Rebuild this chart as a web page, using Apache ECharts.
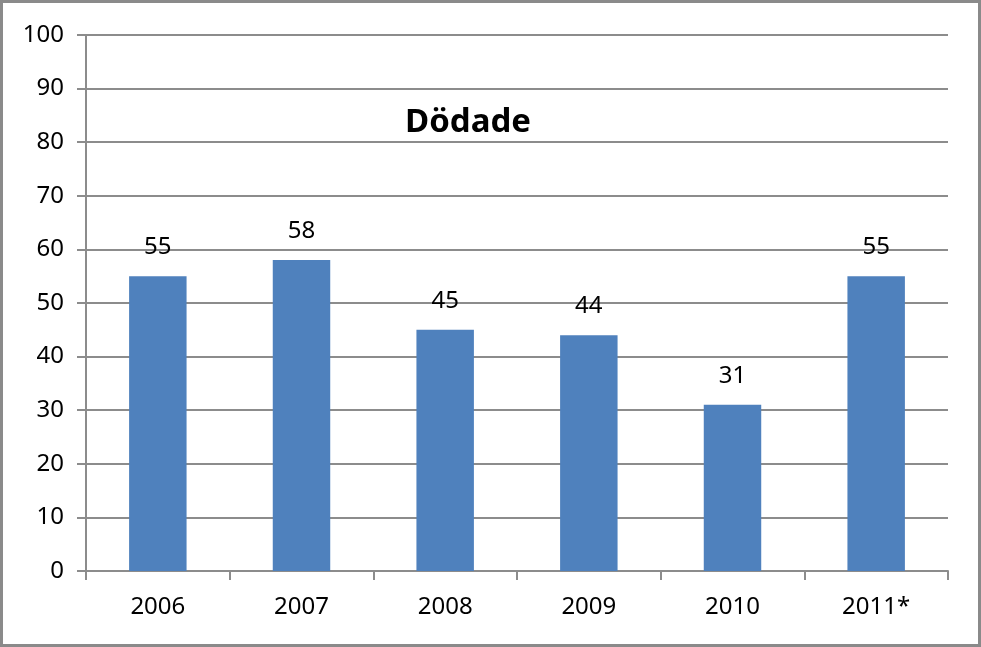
<!DOCTYPE html>
<html><head><meta charset="utf-8">
<script src="https://cdn.jsdelivr.net/npm/echarts@6/dist/echarts.min.js"></script>
<style>html,body{margin:0;padding:0;background:#fff}#c{width:981px;height:647px;box-sizing:border-box;border:3px solid #8a8a8a}</style>
</head><body><div id="c"></div>
<script>
const categories = ['2006','2007','2008','2009','2010','2011*'];
const values = [55, 58, 45, 44, 31, 55];
const yTicks = [0,10,20,30,40,50,60,70,80,90,100];
const titleText = 'Dödade';

const chart = echarts.init(document.getElementById('c'));
const font = "'Noto Sans', 'Open Sans', sans-serif";
chart.setOption({
  animation: false,
  title: { text: titleText, left: 460, top: 98, textAlign: 'center',
    textStyle: { fontFamily: font, fontSize: 33, fontWeight: 'bold', color: '#000' } },
  grid: { left: 83, right: 30, top: 32, bottom: 73, containLabel: false },
  xAxis: { type: 'category', data: categories,
    axisLine: { lineStyle: { color: '#8c8c8c', width: 2 } },
    axisTick: { show: true, length: 9, lineStyle: { color: '#8c8c8c', width: 2 } },
    axisLabel: { fontFamily: font, fontSize: 24, color: '#000', margin: 24 } },
  yAxis: { type: 'value', min: yTicks[0], max: yTicks[yTicks.length-1], interval: 10,
    axisLine: { show: true, lineStyle: { color: '#8c8c8c', width: 2 } },
    axisTick: { show: true, length: 9, lineStyle: { color: '#8c8c8c', width: 2 } },
    splitLine: { lineStyle: { color: '#8c8c8c', width: 2 } },
    axisLabel: { fontFamily: font, fontSize: 24, color: '#000', margin: 22 } },
  series: [{ type: 'bar', data: values, barCategoryGap: '60%',
    itemStyle: { color: '#4f81bd' },
    label: { show: true, position: 'top', distance: 17, fontFamily: font, fontSize: 24, color: '#000' } }]
});
</script></body></html>
